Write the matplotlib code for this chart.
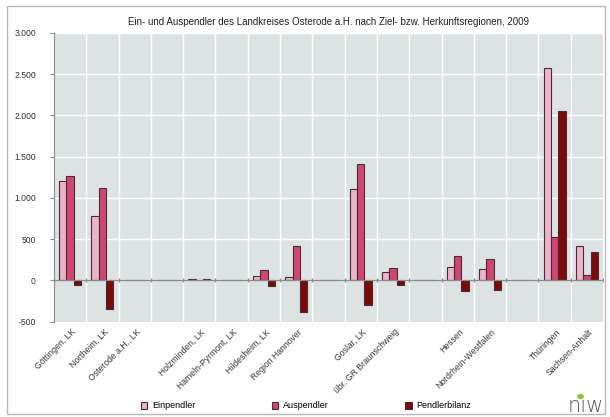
import numpy as np
import matplotlib
matplotlib.use("Agg")
import matplotlib.pyplot as plt
from matplotlib.patches import Rectangle
from matplotlib.ticker import FuncFormatter

# Regionen (leere Strings = Abstandshalter zwischen den Gruppen)
regionen = ["Göttingen, LK", "Northeim, LK", "Osterode a.H., LK", "",
            "Holzminden, LK", "Hameln-Pyrmont, LK", "Hildesheim, LK", "Region Hannover", "",
            "Goslar, LK", "übr. GR Braunschweig", "",
            "Hessen", "Nordrhein-Westfalen", "",
            "Thüringen", "Sachsen-Anhalt"]

einpendler = [1210, 775, 0, 0, 12, 0, 48, 36, 0, 1110, 97, 0, 162, 135, 0, 2580, 412]
auspendler = [1265, 1125, 0, 0, 0, 0, 121, 420, 0, 1410, 155, 0, 291, 255, 0, 530, 72]
bilanz = [-55, -350, 0, 0, 12, 0, -73, -384, 0, -300, -58, 0, -129, -120, 0, 2050, 340]

y_ticks = [-500, 0, 500, 1000, 1500, 2000, 2500, 3000]

farben = {"Einpendler": "#EDB3CB", "Auspendler": "#CF4673", "Pendlerbilanz": "#7B0A0A"}
rand = "#4A2A35"

plt.rcParams["font.family"] = ["Liberation Sans", "DejaVu Sans"]

fig = plt.figure(figsize=(6.1, 4.17), dpi=100)
fig.patch.set_facecolor("white")

# Rahmen um das gesamte Diagramm
fig.add_artist(Rectangle((7 / 610, 1 - 414 / 417), 598 / 610, 408 / 417,
                         transform=fig.transFigure, fill=False,
                         edgecolor="#B8B8B8", linewidth=1.0))

ax = fig.add_axes([54 / 610, 1 - 321.7 / 417, 549 / 610, 288.8 / 417])
ax.set_facecolor("#DDE3E3")

x = np.arange(len(regionen))
w = 0.226
for off, (name, werte) in zip([-w, 0, w], [("Einpendler", einpendler),
                                           ("Auspendler", auspendler),
                                           ("Pendlerbilanz", bilanz)]):
    ax.bar(x + off, werte, width=w, color=farben[name], edgecolor=rand,
           linewidth=0.8, label=name, zorder=3)

ax.set_xlim(-0.5, len(regionen) - 0.5)
ax.set_ylim(-500, 3000)
ax.set_yticks(y_ticks)
ax.yaxis.set_major_formatter(FuncFormatter(lambda v, p: f"{int(v):,}".replace(",", ".")))

# Gitterlinien zwischen den Kategorien und auf den Y-Werten
for b in np.arange(0.5, len(regionen) - 0.5, 1):
    ax.axvline(b, color="white", linewidth=1.0, zorder=1)
for t in y_ticks[1:]:
    ax.axhline(t, color="white", linewidth=1.0, zorder=1)
ax.axhline(0, color="#8C8C8C", linewidth=0.9, zorder=4)
ax.plot(np.arange(-0.5, len(regionen), 1), np.zeros(len(regionen) + 1),
        linestyle="none", marker="|", markersize=3, color="#8C8C8C", zorder=4)

ax.set_xticks(x)
ax.set_xticklabels(regionen, rotation=45, ha="right", rotation_mode="anchor",
                   fontsize=6.2, color="#333333")
ax.tick_params(axis="x", length=0, pad=4)
ax.tick_params(axis="y", labelsize=6.2, colors="#8C8C8C", labelcolor="#333333",
               length=3, width=0.8, direction="out", pad=10)
for s in ["top", "right", "bottom"]:
    ax.spines[s].set_visible(False)
ax.spines["left"].set_color("#8C8C8C")

for lbl in ax.get_xticklabels():
    lbl.set_transform(lbl.get_transform() +
                      matplotlib.transforms.ScaledTranslation(1 / 72, 0, fig.dpi_scale_trans))

fig.text(328 / 610, 1 - 22 / 417,
         "Ein- und Auspendler des Landkreises Osterode a.H. nach Ziel- bzw. Herkunftsregionen, 2009",
         ha="center", va="center", fontsize=7, color="#222222")

ax.legend(loc="center", bbox_to_anchor=(306 / 610, 1 - 406 / 417), bbox_transform=fig.transFigure,
          ncol=3, frameon=False, fontsize=6.5, handlelength=0.7, handleheight=0.7,
          columnspacing=8.5, handletextpad=0.5)

# NIW-Logo unten rechts
fig.text(586 / 610, 1 - 406 / 417, "nıw", ha="center", va="center", fontsize=15,
         color="#4F5563", family="DejaVu Sans", fontweight="light")
fig.add_artist(plt.Circle((580.5 / 610, 1 - 396.5 / 417), 0.0045, transform=fig.transFigure,
                          color="#8CC63F", zorder=5))

fig.savefig("out.png", dpi=100)
